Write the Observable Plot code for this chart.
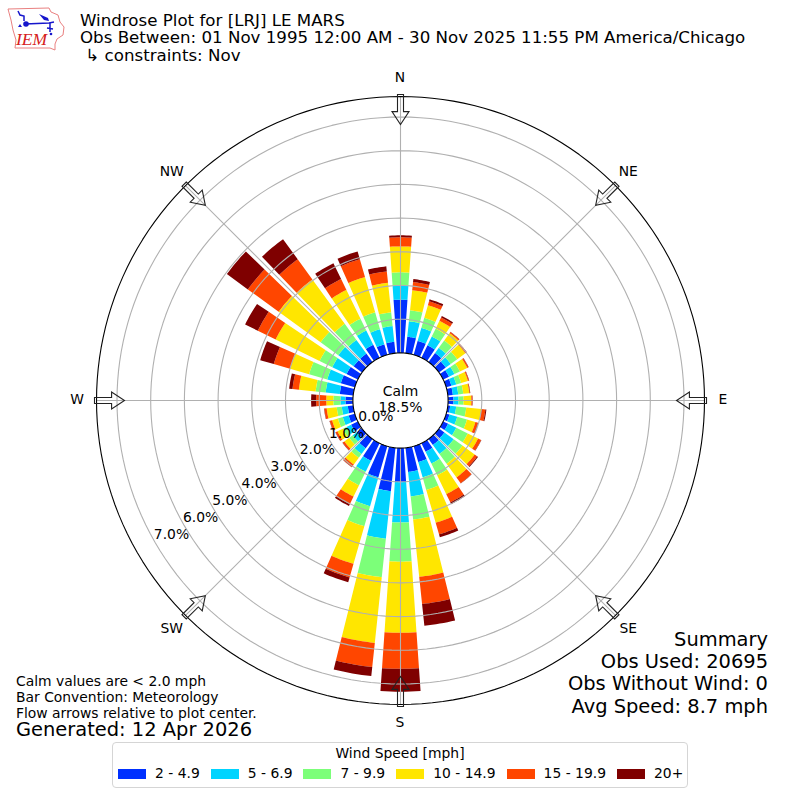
<!DOCTYPE html>
<html>
<head>
<meta charset="utf-8">
<script src="https://cdn.jsdelivr.net/npm/d3@7"></script>
<script src="https://cdn.jsdelivr.net/npm/@observablehq/plot@0.6"></script>
<style>
html,body{margin:0;padding:0;background:#fff}
body{font-family:"DejaVu Sans",sans-serif;color:#000;width:800px;height:800px;position:relative;overflow:hidden}
.t{position:absolute;white-space:pre;line-height:1}
.title{left:80px;font-size:16.67px}
.summary{right:32px;font-size:19.44px}
.note{left:16px;font-size:13.89px}
#gen{left:16px;font-size:19.44px}
#legend{position:absolute;left:112px;top:742px;width:574px;height:44px;border:1px solid #d5d5d5;border-radius:4px;background:#fff;font-size:13.89px}
#legend .h{position:absolute;top:3px;left:0;right:0;text-align:center;line-height:1.1}
#legend .row{position:absolute;top:23px;left:5px;display:flex;align-items:center}
#legend .sw{width:28px;height:10px;margin-right:9px}
#legend .lb{margin-right:11px;line-height:1.1;white-space:pre}
#chart{position:absolute;left:0;top:0}
#logo{position:absolute;left:0;top:0}
</style>
</head>
<body>
<div id="chart"></div>
<svg id="logo" width="70" height="56" viewBox="0 0 70 56">
  <path d="M8 9 L49 8 L51 12 L58 15 L60 22 L64 27 L63 35 L57 39 L55 44 L55 50 L50 48 L15 48 L16 40 L13 30 L11 20 Z" fill="none" stroke="#e98080" stroke-width="1"/>
  <path d="M25 24 L49 23 L54 22 M18 11 L20 15 L24 16 L24 21 M50 23 L50 32 M47 28 L53 29" stroke="#1616cc" stroke-width="1.5" fill="none"/>
  <circle cx="26" cy="24" r="2.8" fill="#1616cc"/>
  <path d="M39 14 L48 18 L49 21 L44 20 Z M18 27 L20 24 L22 27 Z" fill="#1616cc"/>
  <circle cx="51" cy="34" r="1.3" fill="#1616cc"/>
  <text x="16" y="45" font-family="Liberation Serif" font-style="italic" font-size="17.5" fill="#d62020">IEM</text>
</svg>
<div id="texts"></div>
<div id="legend"><div class="h" id="lh"></div><div class="row" id="lr"></div></div>
<script>
// Wind directions (degrees, meteorological) and percentage of observations per speed bin
const directions = [0,10,20,30,40,50,60,70,80,90,100,110,120,130,140,150,160,170,180,190,200,210,220,230,240,250,260,270,280,290,300,310,320,330,340,350];
const speedLabels = ["2 - 4.9","5 - 6.9","7 - 9.9","10 - 14.9","15 - 19.9","20+"];
const speedColors = ["#0030ff","#00d4ff","#7cff79","#ffe600","#ff4600","#7f0000"];
const s2to5   = [1.58,.49,.43,.41,.33,.25,.19,.16,.15,.16,.07,.10,.16,.20,.22,.28,.49,.72,1.01,1.29,.96,.58,.34,.19,.22,.19,.16,.22,.40,.43,.37,.31,.31,.43,.32,.34];
const s5to7   = [.42,.46,.40,.29,.19,.18,.18,.15,.16,.15,.18,.24,.27,.34,.33,.39,.47,.73,1.20,1.42,.89,.36,.21,.15,.15,.18,.18,.15,.42,.42,.47,.56,.50,.47,.47,.47];
const s7to10  = [.39,.33,.31,.26,.27,.24,.18,.15,.15,.15,.30,.30,.38,.32,.36,.39,.39,.69,1.16,1.15,.62,.45,.14,.13,.12,.15,.15,.21,.30,.56,.42,.65,.59,.39,.52,.41];
const s10to15 = [.77,.60,.39,.26,.27,.30,.24,.21,.18,.23,.45,.26,.34,.45,.50,.62,1.01,1.71,2.11,1.96,1.16,.37,.25,.18,.18,.18,.30,.21,.50,.59,1.45,1.54,1.63,.95,1.09,.88];
const s15to20 = [.27,.24,.12,.11,.04,.04,.04,.03,.02,.03,.12,.08,.10,.09,.21,.27,.36,.81,1.07,.72,.42,.25,.09,.06,.06,.07,.07,.30,.19,.50,.59,1.13,.74,.36,.55,.34];
const s20plus = [.06,.09,.06,.05,.01,.01,.01,.01,.01,.01,.03,.01,.01,.03,.01,.06,.09,.65,.68,.27,.15,.06,.01,.01,.01,.01,.01,.15,.10,.42,.42,.77,.74,.52,.24,.15];
const rings = [1,2,3,4,5,6,7];
const ringLabels = ["0.0%","1.0%","2.0%","3.0%","4.0%","5.0%","6.0%","7.0%"];
const compass = ["N","NE","E","SE","S","SW","W","NW"];
const compassAngles = [0,45,90,135,180,225,270,315];
const titleLines = ["Windrose Plot for [LRJ] LE MARS","Obs Between: 01 Nov 1995 12:00 AM - 30 Nov 2025 11:55 PM America/Chicago"," ↳ constraints: Nov"];
const summaryLines = ["Summary","Obs Used: 20695","Obs Without Wind: 0","Avg Speed: 8.7 mph"];
const noteLines = ["Calm values are < 2.0 mph","Bar Convention: Meteorology","Flow arrows relative to plot center."];
const generated = "Generated: 12 Apr 2026";
const calmText = ["Calm","18.5%"];

// Radial axis geometry (hole, outer edge, label angle, bar half width)
const hole = 1.4125, outer = 9.02, span = 11.869, labelAngle = 240, halfWidth = 3.95;
const rad = a => a * Math.PI / 180;
const px = (rho, a) => rho * Math.sin(rad(a));
const py = (rho, a) => rho * Math.cos(rad(a));

const bins = [s2to5,s5to7,s7to10,s10to15,s15to20,s20plus];
const wedges = [];
directions.forEach((dir, i) => {
  let base = 0;
  bins.forEach((b, k) => {
    const r0 = hole + base, r1 = hole + base + b[i];
    base += b[i];
    const id = dir + "-" + k, speed = speedLabels[k];
    const steps = d3.range(-halfWidth, halfWidth + 1e-6, halfWidth / 4);
    for (const s of steps) wedges.push({id, speed, x: px(r1, dir + s), y: py(r1, dir + s)});
    for (const s of steps.slice().reverse()) wedges.push({id, speed, x: px(r0, dir + s), y: py(r0, dir + s)});
  });
});
const circle = (rho, id) => d3.range(0, 361, 2).map(a => ({id, x: px(rho, a), y: py(rho, a)}));
const gridRings = rings.flatMap(r => circle(hole + r, r));
const spokes = compassAngles.flatMap(a => [{id: a, x: px(hole, a), y: py(hole, a)}, {id: a, x: px(outer, a), y: py(outer, a)}]);
const tickData = ringLabels.map((label, i) => ({label, x: px(hole + i, labelAngle), y: py(hole + i, labelAngle)}));
const compassData = compass.map((label, i) => ({label, x: px(9.58, compassAngles[i]), y: py(9.58, compassAngles[i])}));
const arrowData = compassAngles.map(a => ({x: px(9.08, a), y: py(9.08, a), rot: a + 180}));
const hollowArrow = {
  draw(c, l) {
    const neck = l * 0.57, w = 3, head = 8.5;
    c.moveTo(-w, 0); c.lineTo(-w, -neck); c.lineTo(-head, -neck);
    c.lineTo(0, -l); c.lineTo(head, -neck); c.lineTo(w, -neck); c.lineTo(w, 0); c.closePath();
  },
  r: 0
};

const chart = Plot.plot({
  width: 800, height: 800,
  marginTop: 0, marginRight: 0, marginBottom: 0, marginLeft: 0,
  x: {axis: null, domain: [-span, span], range: [0, 800]},
  y: {axis: null, domain: [-span, span], range: [800, 0]},
  color: {domain: speedLabels, range: speedColors},
  style: {background: "transparent", fontFamily: "'DejaVu Sans'"},
  marks: [
    Plot.line(wedges, {x: "x", y: "y", z: "id", fill: "speed", stroke: "none", curve: "linear-closed"}),
    Plot.line(gridRings, {x: "x", y: "y", z: "id", stroke: "#b0b0b0", strokeWidth: 1.1}),
    Plot.line(spokes, {x: "x", y: "y", z: "id", stroke: "#b0b0b0", strokeWidth: 1.1}),
    Plot.line(circle(outer, "outer"), {x: "x", y: "y", stroke: "#000", strokeWidth: 1.1}),
    Plot.line(circle(hole, "hole"), {x: "x", y: "y", fill: "#fff", stroke: "#000", strokeWidth: 1.1, curve: "linear-closed"}),
    Plot.vector(arrowData, {x: "x", y: "y", rotate: "rot", length: 30, anchor: "start", shape: hollowArrow, fill: "none", stroke: "#222", strokeWidth: 1.1, strokeLinejoin: "miter"}),
    Plot.text(tickData, {x: "x", y: "y", text: "label", dx: 16.5, dy: -8, fontSize: 13.89, fill: "#000"}),
    Plot.text(compassData, {x: "x", y: "y", text: "label", dx: -0.5, dy: -0.5, fontSize: 13.89, fill: "#000"}),
    Plot.text([calmText[0]], {frameAnchor: "middle", dy: -9, text: d => d, fontSize: 13.89, fill: "#000"}),
    Plot.text([calmText[1]], {frameAnchor: "middle", dy: 7, text: d => d, fontSize: 13.89, fill: "#000"})
  ]
});
document.getElementById("chart").appendChild(chart);
const texts = document.getElementById("texts");
const addLine = (text, cls, top) => {
  const el = document.createElement("div");
  el.className = "t " + cls; el.style.top = top + "px"; el.textContent = text;
  texts.appendChild(el);
  return el;
};
titleLines.forEach((s, i) => addLine(s, "title", 13 + 17.4 * i));
summaryLines.forEach((s, i) => addLine(s, "summary", 630 + 22.2 * i));
noteLines.forEach((s, i) => addLine(s, "note", 674.6 + 16 * i));
addLine(generated, "", 720.4).id = "gen";
document.getElementById("lh").textContent = "Wind Speed [mph]";
const lr = document.getElementById("lr");
speedLabels.forEach((label, i) => {
  const sw = document.createElement("div"); sw.className = "sw"; sw.style.background = speedColors[i];
  const lb = document.createElement("div"); lb.className = "lb"; lb.textContent = label;
  lr.append(sw, lb);
});
</script>
</body>
</html>
